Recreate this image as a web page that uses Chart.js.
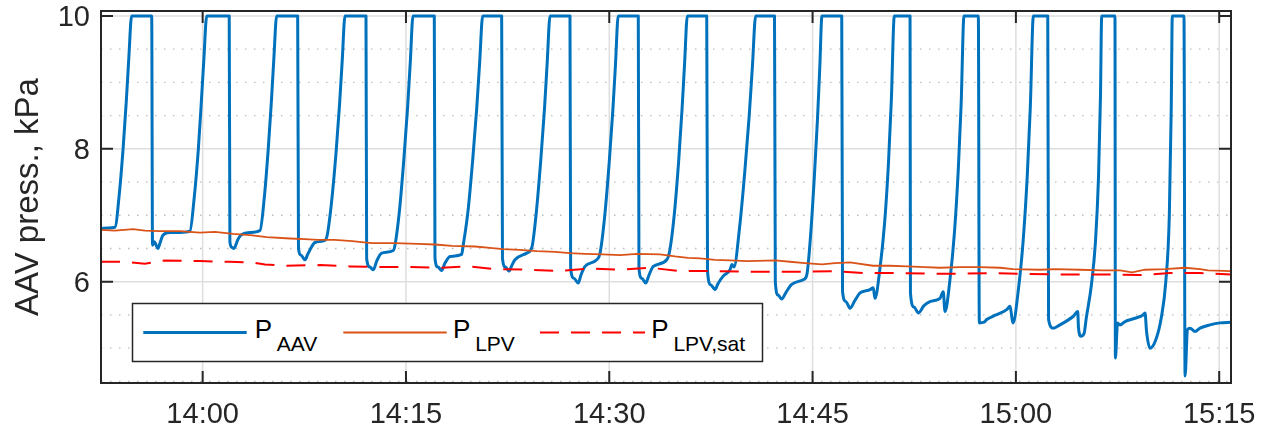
<!DOCTYPE html>
<html>
<head>
<meta charset="utf-8">
<script src="https://cdn.jsdelivr.net/npm/chart.js@4/dist/chart.umd.min.js"></script>
<style>
html, body { margin: 0; padding: 0; background: #ffffff; }
#wrap { position: relative; width: 1261px; height: 434px; overflow: hidden; }
#c { position: absolute; left: 0; top: 0; }
#legend { position: absolute; left: 0; top: 0; pointer-events: none; }
</style>
</head>
<body>
<div id="wrap">
  <canvas id="c" width="1261" height="434"></canvas>
  <svg id="legend" width="1261" height="434" xmlns="http://www.w3.org/2000/svg"></svg>
</div>
<script>
// ---------------- DATA (time in minutes after 14:00, pressure in kPa) ----------------
const xTickMinutes = [0, 15, 30, 45, 60, 75];
const xTickLabels = ['14:00', '14:15', '14:30', '14:45', '15:00', '15:15'];
const yTickValues = [6, 8, 10];
const yMinorTicks = [4.5, 5, 5.5, 6.5, 7, 7.5, 8.5, 9, 9.5];

const seriesMain = ['P', 'P', 'P'];
const seriesSub = ['AAV', 'LPV', 'LPV,sat'];

const aavTime = [
  -7.50,-6.99,-6.47,-6.16,-5.86,-5.63,-5.45,-5.24,-3.76,-3.70,-3.56,-3.45,-3.30,-3.15,-2.93,-2.41,-1.68,-0.94,
  -0.63,-0.32,-0.10,0.09,0.30,1.96,2.01,2.14,2.27,2.38,2.61,2.88,3.49,4.23,
  4.54,4.84,5.07,5.25,5.46,7.01,7.07,7.25,7.55,7.77,8.29,9.02,9.17,
  9.50,9.84,10.10,10.30,10.50,12.05,12.10,12.34,12.59,12.86,13.21,14.06,14.19,
  14.52,14.85,15.12,15.32,15.52,17.09,17.14,17.36,17.63,17.88,18.25,19.11,19.21,
  19.57,19.93,20.22,20.44,20.66,22.06,22.12,22.34,22.60,22.82,23.04,23.91,24.28,
  24.61,24.95,25.22,25.42,25.63,27.10,27.15,27.40,27.71,27.91,28.21,29.07,29.31,
  29.65,29.99,30.26,30.46,30.66,32.14,32.19,32.41,32.69,32.93,33.25,34.24,34.48,
  34.80,35.12,35.37,35.56,35.76,37.19,37.25,37.50,37.80,38.02,38.39,38.91,39.05,39.20,
  39.60,40.00,40.32,40.56,40.80,42.19,42.25,42.45,42.72,43.04,43.46,44.31,44.57,
  44.85,45.13,45.36,45.53,45.69,47.15,47.21,47.46,47.76,48.13,48.50,49.24,49.48,49.60,
  49.96,50.32,50.60,50.81,51.03,52.19,52.22,52.48,52.80,53.22,53.66,54.40,54.64,54.77,
  55.12,55.47,55.75,55.96,56.17,57.23,57.30,57.65,57.85,58.53,59.32,59.57,59.71,59.79,
  60.16,60.54,60.84,61.06,61.29,62.35,62.41,62.76,63.25,64.24,64.56,64.62,64.80,65.03,
  65.19,65.57,65.87,66.10,66.24,66.33,67.31,67.34,67.50,67.68,68.05,68.79,69.38,69.53,69.64,69.89,
  70.31,70.72,71.06,71.32,71.46,71.54,72.40,72.48,72.66,72.85,73.22,73.58,74.32,75.06,75.87
];
const aavKpa = [
  6.80,6.81,6.82,7.30,8.03,8.73,9.36,10,10,6.55,6.60,6.56,6.50,6.58,6.70,6.74,6.74,6.76,
  7.25,7.99,8.70,9.35,10,10,6.60,6.52,6.50,6.52,6.64,6.71,6.74,6.77,
  7.25,8.00,8.71,9.35,10,10,6.50,6.40,6.33,6.42,6.59,6.62,6.68,
  7.18,7.94,8.67,9.34,10,10,6.35,6.22,6.18,6.32,6.43,6.47,6.55,
  7.07,7.86,8.62,9.31,10,10,6.35,6.22,6.17,6.28,6.38,6.41,6.53,
  7.05,7.85,8.61,9.31,10,10,6.35,6.22,6.16,6.25,6.33,6.43,6.51,
  7.03,7.84,8.60,9.30,10,10,6.20,6.05,5.98,6.10,6.23,6.33,6.42,
  6.96,7.78,8.57,9.28,10,10,6.20,6.05,5.98,6.10,6.23,6.33,6.49,
  7.02,7.82,8.60,9.30,10,10,6.15,5.95,5.88,5.97,6.08,6.18,6.26,6.22,
  6.79,7.66,8.49,9.24,10,10,6.00,5.80,5.74,5.84,5.96,6.03,6.10,
  6.69,7.58,8.44,9.22,10,10,5.85,5.70,5.60,5.72,5.83,5.88,5.91,5.75,
  6.18,6.90,7.79,8.73,10,10,5.83,5.62,5.53,5.64,5.70,5.75,5.85,5.55,
  6.00,6.75,7.69,8.67,10,10,5.38,5.39,5.43,5.50,5.58,5.63,5.45,5.38,
  5.84,6.63,7.60,8.61,10,10,5.43,5.30,5.35,5.48,5.55,5.30,5.18,5.22,
  5.45,5.95,6.60,7.60,8.80,10,10,4.85,5.38,5.35,5.40,5.45,5.50,5.53,5.25,5.00,
  5.12,5.45,6.00,7.00,8.60,10,10,4.58,5.28,5.30,5.25,5.30,5.35,5.38,5.39
];

const lpvTime = [
  -7.50,-6.47,-5.14,-4.26,-3.15,-1.67,-0.20,0.91,2.24,3.49,4.74,6.44,7.55,8.51,9.76,11.02,12.49,14.19,
  15.89,17.14,18.39,20.09,21.20,22.16,23.41,24.67,25.99,27.10,28.21,29.54,30.79,32.04,33.74,34.85,
  35.81,36.69,37.80,38.91,40.23,42.23,43.33,44.44,45.69,46.65,47.76,49.46,50.71,51.97,53.29,54.40,
  55.88,57.35,58.83,59.79,61.78,62.89,64.73,66.35,67.68,68.57,69.53,71.00,72.48,73.58,74.18,75.87
];
const lpvKpa = [
  6.78,6.77,6.79,6.77,6.76,6.76,6.74,6.75,6.72,6.70,6.67,6.65,6.64,6.63,6.63,6.61,6.58,6.58,
  6.57,6.56,6.54,6.53,6.51,6.49,6.48,6.46,6.45,6.43,6.42,6.41,6.40,6.42,6.41,6.38,
  6.36,6.35,6.33,6.32,6.31,6.32,6.30,6.28,6.26,6.28,6.29,6.24,6.24,6.23,6.22,6.21,
  6.22,6.22,6.21,6.19,6.18,6.19,6.18,6.17,6.17,6.14,6.18,6.19,6.21,6.19,6.17,6.16
];

const satTime = [
  -7.50,-5.73,-4.26,-2.78,-0.20,2.01,3.64,4.60,6.07,8.65,10.87,13.08,15.30,17.51,19.72,21.57,24.15,26.36,
  28.58,30.79,33.00,35.22,37.43,40.01,42.23,44.44,46.65,48.87,51.08,53.66,55.88,58.09,60.30,63.25,66.94,
  69.16,71.37,73.58,75.87
];
const satKpa = [
  6.30,6.30,6.27,6.32,6.31,6.30,6.29,6.26,6.24,6.25,6.23,6.22,6.22,6.21,6.23,6.19,6.18,6.16,
  6.20,6.18,6.21,6.16,6.16,6.15,6.15,6.15,6.16,6.13,6.13,6.12,6.12,6.13,6.12,6.11,6.11,
  6.10,6.13,6.13,6.11
];

// ---------------- CHART ----------------
const toXY = (xs, ys) => xs.map((t, i) => ({ x: t, y: ys[i] }));
const FONT = "'Liberation Sans', Arial, Helvetica, sans-serif";
Chart.defaults.font.family = FONT;
Chart.defaults.color = '#262626';

const framePlugin = {
  id: 'matlabFrame',
  beforeDatasetsDraw(chart) {
    const { ctx, chartArea: a, scales: { x, y } } = chart;
    ctx.save();
    ctx.lineWidth = 1.3;
    ctx.strokeStyle = '#bcbcbc';
    ctx.setLineDash([1.5, 7.5]);
    yMinorTicks.forEach(v => {
      const py = y.getPixelForValue(v);
      ctx.beginPath(); ctx.moveTo(a.left, py); ctx.lineTo(a.right, py); ctx.stroke();
    });
    ctx.setLineDash([]);
    ctx.strokeStyle = '#dedede';
    ctx.lineWidth = 1.5;
    yTickValues.forEach(v => {
      const py = y.getPixelForValue(v);
      ctx.beginPath(); ctx.moveTo(a.left, py); ctx.lineTo(a.right, py); ctx.stroke();
    });
    xTickMinutes.forEach(v => {
      const px = x.getPixelForValue(v);
      ctx.beginPath(); ctx.moveTo(px, a.top); ctx.lineTo(px, a.bottom); ctx.stroke();
    });
    ctx.restore();
  },
  afterDatasetsDraw(chart) {
    const { ctx, chartArea: a, scales: { x, y } } = chart;
    ctx.save();
    ctx.strokeStyle = '#262626';
    ctx.lineWidth = 2;
    ctx.strokeRect(a.left, a.top, a.right - a.left, a.bottom - a.top);
    const L = 12;
    ctx.beginPath();
    xTickMinutes.forEach(v => {
      const px = x.getPixelForValue(v);
      ctx.moveTo(px, a.bottom); ctx.lineTo(px, a.bottom - L);
      ctx.moveTo(px, a.top); ctx.lineTo(px, a.top + L);
    });
    yTickValues.forEach(v => {
      const py = y.getPixelForValue(v);
      ctx.moveTo(a.left, py); ctx.lineTo(a.left + L, py);
      ctx.moveTo(a.right, py); ctx.lineTo(a.right - L, py);
    });
    ctx.stroke();
    ctx.restore();
  }
};

const chart = new Chart(document.getElementById('c'), {
  type: 'line',
  data: {
    datasets: [
      { label: 'P_AAV', data: toXY(aavTime, aavKpa), borderColor: '#0072BD', borderWidth: 3,
        pointRadius: 0, cubicInterpolationMode: 'monotone', borderJoinStyle: 'round', order: 3 },
      { label: 'P_LPV', data: toXY(lpvTime, lpvKpa), borderColor: '#D95319', borderWidth: 1.8,
        pointRadius: 0, tension: 0, order: 2 },
      { label: 'P_LPV,sat', data: toXY(satTime, satKpa), borderColor: '#FF0000', borderWidth: 2,
        borderDash: [19, 12], pointRadius: 0, tension: 0, order: 1 }
    ]
  },
  options: {
    responsive: false,
    animation: false,
    events: [],
    layout: { padding: { left: 0, right: 30, top: 11, bottom: 0 } },
    plugins: { legend: { display: false }, tooltip: { enabled: false } },
    scales: {
      x: {
        type: 'linear',
        min: -7.50,
        max: 75.87,
        afterBuildTicks: s => { s.ticks = xTickMinutes.map(v => ({ value: v })); },
        afterFit: s => { s.height = 51; s.paddingLeft = 0; s.paddingRight = 0; },
        ticks: {
          autoSkip: false, maxRotation: 0, padding: 15,
          font: { size: 29 }, color: '#262626',
          callback: (v) => { const i = xTickMinutes.indexOf(v); return i >= 0 ? xTickLabels[i] : ''; }
        },
        grid: { display: false, drawTicks: false },
        border: { display: false }
      },
      y: {
        type: 'linear',
        min: 4.475,
        max: 10.075,
        afterBuildTicks: s => { s.ticks = yTickValues.map(v => ({ value: v })); },
        afterFit: s => { s.width = 101; s.paddingTop = 0; s.paddingBottom = 0; },
        ticks: {
          padding: 11, labelOffset: 2,
          font: { size: 29 }, color: '#262626',
          callback: (v) => String(v)
        },
        grid: { display: false, drawTicks: false },
        border: { display: false },
        title: {
          display: true, text: 'AAV press., kPa', color: '#262626',
          font: { size: 33 }, padding: { top: 9, bottom: 0 }
        }
      }
    }
  },
  plugins: [framePlugin]
});

// ---------------- LEGEND (SVG overlay, real text) ----------------
(function buildLegend() {
  const NS = 'http://www.w3.org/2000/svg';
  const svg = document.getElementById('legend');
  const mk = (tag, attrs) => { const e = document.createElementNS(NS, tag); for (const k in attrs) e.setAttribute(k, attrs[k]); return e; };
  svg.appendChild(mk('rect', { x: 132.5, y: 303.5, width: 630, height: 58, fill: '#ffffff', stroke: '#262626', 'stroke-width': 1.5 }));
  const ds = chart.data.datasets;
  const lineX = [[143.3, 246.7], [343.3, 446.7], [540, 645]];
  const textX = [254.7, 453, 651.3];
  const lineY = 332.5;
  ds.forEach((d, i) => {
    const attrs = { x1: lineX[i][0], x2: lineX[i][1], y1: lineY, y2: lineY, stroke: d.borderColor, 'stroke-width': d.borderWidth };
    if (d.borderDash) attrs['stroke-dasharray'] = d.borderDash.join(' ');
    svg.appendChild(mk('line', attrs));
    const t = mk('text', { x: textX[i], y: 338.3, 'font-family': FONT, 'font-size': 26, fill: '#000000' });
    t.appendChild(document.createTextNode(seriesMain[i]));
    const sub = mk('tspan', { dx: 4.8, dy: 12.4, 'font-size': 21 });
    sub.appendChild(document.createTextNode(seriesSub[i]));
    t.appendChild(sub);
    svg.appendChild(t);
  });
})();
</script>
</body>
</html>
